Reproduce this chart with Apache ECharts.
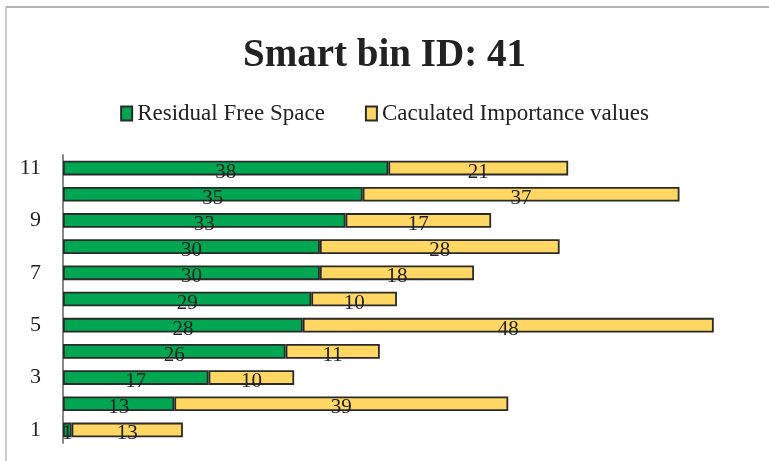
<!DOCTYPE html>
<html>
<head>
<meta charset="utf-8">
<script src="https://cdn.jsdelivr.net/npm/echarts@6/dist/echarts.min.js"></script>
<style>
  html, body { margin: 0; padding: 0; background: #fff; }
  #chart { width: 769px; height: 461px; }
</style>
</head>
<body>
<div id="chart"></div>
<script>
var categories = ['1', '2', '3', '4', '5', '6', '7', '8', '9', '10', '11'];
var freeSpace = [1, 13, 17, 26, 28, 29, 30, 30, 33, 35, 38];
var importance = [13, 39, 10, 11, 48, 10, 18, 28, 17, 37, 21];

var serif = '"Liberation Serif", "DejaVu Serif", serif';
var myChart = echarts.init(document.getElementById('chart'));

var labelStyle = {
  show: true,
  position: 'inside',
  offset: [0, 4],
  color: '#222',
  fontFamily: serif,
  fontSize: 21
};

myChart.setOption({
  animation: false,
  title: {
    text: 'Smart bin ID: 41',
    left: 'center',
    top: 31,
    textStyle: { fontFamily: serif, fontSize: 39, fontWeight: 'bold', color: '#222' }
  },
  legend: {
    top: 97,
    left: 'center',
    itemGap: 40,
    itemWidth: 11,
    itemHeight: 14,
    icon: 'rect',
    textStyle: { fontFamily: serif, fontSize: 23, color: '#222', padding: [0, 0, 0, 0] },
    data: ['Residual Free Space', 'Caculated Importance values']
  },
  graphic: [
    { type: 'line', shape: { x1: 6, y1: 7, x2: 769, y2: 7 }, style: { stroke: '#999', lineWidth: 1.5 } },
    { type: 'line', shape: { x1: 6, y1: 7, x2: 6, y2: 461 }, style: { stroke: '#bbb', lineWidth: 1.5 } }
  ],
  grid: { left: 63, top: 155, width: 685, height: 288 },
  xAxis: {
    type: 'value',
    min: 0,
    max: 80,
    show: false
  },
  yAxis: {
    type: 'category',
    data: categories,
    axisLine: { lineStyle: { color: '#888', width: 2 } },
    axisTick: { show: false },
    axisLabel: {
      interval: 1,
      margin: 22,
      color: '#222',
      fontFamily: serif,
      fontSize: 22
    }
  },
  series: [
    {
      name: 'Residual Free Space',
      type: 'bar',
      stack: 'total',
      barCategoryGap: '44%',
      data: freeSpace,
      itemStyle: { color: '#00A651', borderColor: '#2a2a2a', borderWidth: 1.8 },
      label: labelStyle
    },
    {
      name: 'Caculated Importance values',
      type: 'bar',
      stack: 'total',
      barCategoryGap: '44%',
      data: importance,
      itemStyle: { color: '#FFD762', borderColor: '#2a2a2a', borderWidth: 1.8 },
      label: labelStyle
    }
  ]
});
</script>
</body>
</html>
